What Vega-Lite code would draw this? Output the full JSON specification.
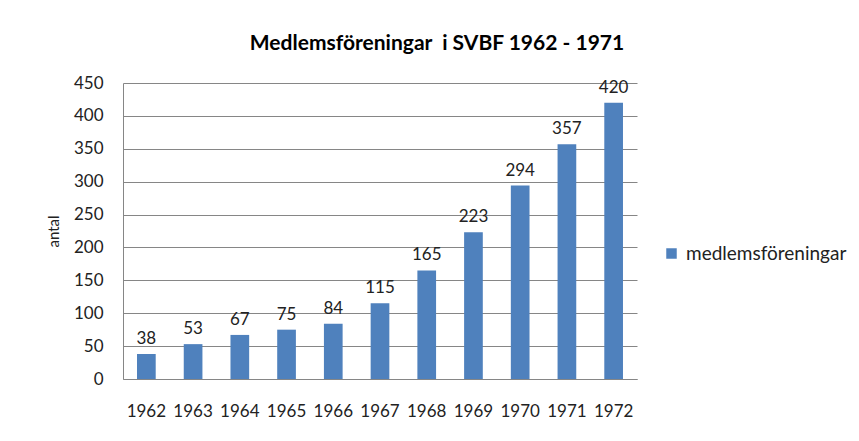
{
  "$schema": "https://vega.github.io/schema/vega-lite/v6.json",
  "autosize": {"type": "none"},
  "padding": {"left": 123, "top": 83, "right": 222, "bottom": 62},
  "width": 514,
  "height": 296,
  "background": "white",
  "title": {
    "text": "Medlemsföreningar\u00a0 i SVBF 1962 - 1971",
    "font": "Lato",
    "fontSize": 21,
    "fontWeight": "bold",
    "color": "#000000",
    "anchor": "middle",
    "dx": 57,
    "offset": 20
  },
  "data": {
    "values": [
      {"year": "1962", "antal": 38, "serie": "medlemsföreningar"},
      {"year": "1963", "antal": 53, "serie": "medlemsföreningar"},
      {"year": "1964", "antal": 67, "serie": "medlemsföreningar"},
      {"year": "1965", "antal": 75, "serie": "medlemsföreningar"},
      {"year": "1966", "antal": 84, "serie": "medlemsföreningar"},
      {"year": "1967", "antal": 115, "serie": "medlemsföreningar"},
      {"year": "1968", "antal": 165, "serie": "medlemsföreningar"},
      {"year": "1969", "antal": 223, "serie": "medlemsföreningar"},
      {"year": "1970", "antal": 294, "serie": "medlemsföreningar"},
      {"year": "1971", "antal": 357, "serie": "medlemsföreningar"},
      {"year": "1972", "antal": 420, "serie": "medlemsföreningar"}
    ]
  },
  "encoding": {
    "x": {
      "field": "year",
      "type": "ordinal",
      "scale": {"paddingInner": 0.6, "paddingOuter": 0.3},
      "axis": {
        "title": null,
        "labelAngle": 0,
        "ticks": false,
        "labelPadding": 24,
        "labelFont": "Lato",
        "labelFontSize": 17,
        "labelColor": "#222222",
        "domainColor": "#868686",
        "grid": false
      }
    },
    "y": {
      "field": "antal",
      "type": "quantitative",
      "scale": {"domain": [0, 450]},
      "axis": {
        "title": "antal",
        "titleFont": "Lato",
        "titleFontSize": 15,
        "titleFontWeight": "normal",
        "titleColor": "#222222",
        "titleX": -70,
        "titleY": 148,
        "titleAngle": 270,
        "titleAlign": "center",
        "titleBaseline": "middle",
        "values": [0, 50, 100, 150, 200, 250, 300, 350, 400, 450],
        "ticks": false,
        "labelPadding": 20,
        "labelFont": "Lato",
        "labelFontSize": 17,
        "labelColor": "#222222",
        "domainColor": "#868686",
        "gridColor": "#868686",
        "gridWidth": 1
      }
    }
  },
  "layer": [
    {
      "mark": {"type": "bar", "color": "#4F81BD"},
      "encoding": {
        "color": {
          "field": "serie",
          "type": "nominal",
          "scale": {"range": ["#4F81BD"]},
          "legend": {
            "title": null,
            "orient": "none",
            "legendX": 539,
            "legendY": 161,
            "symbolType": "square",
            "symbolSize": 110,
            "symbolStrokeWidth": 0,
            "labelFont": "Lato",
            "labelFontSize": 19,
            "labelLimit": 400,
            "labelColor": "#222222",
            "labelOffset": 5
          }
        }
      }
    },
    {
      "mark": {"type": "text", "baseline": "bottom", "dy": -6, "font": "Lato", "fontSize": 17, "color": "#222222"},
      "encoding": {
        "text": {"field": "antal", "type": "quantitative"}
      }
    }
  ],
  "config": {
    "view": {"stroke": null}
  }
}
